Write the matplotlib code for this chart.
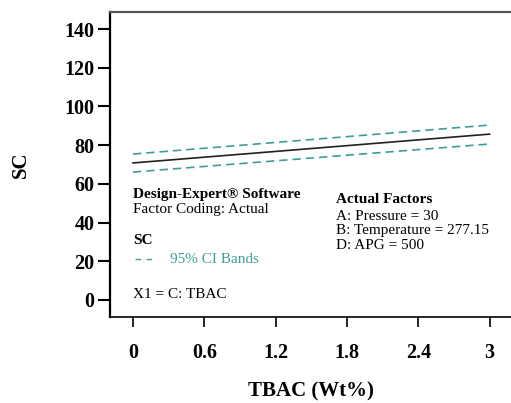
import matplotlib.pyplot as plt

# TBAC (Wt%) values and predicted SC with 95% CI bands
tbac = [0, 3]
sc_mean = [70.8, 85.7]
sc_upper = [75.4, 90.4]
sc_lower = [66.1, 80.6]

x_ticks = [0, 0.6, 1.2, 1.8, 2.4, 3]
x_tick_labels = ["0", "0.6", "1.2", "1.8", "2.4", "3"]
y_ticks = [0, 20, 40, 60, 80, 100, 120, 140]

teal = "#3a9e9b"

plt.rcParams['font.family'] = ['Liberation Serif', 'DejaVu Serif']

fig = plt.figure(figsize=(5.11, 4.03), dpi=100)
ax = fig.add_axes([0.2153, 0.2134, 0.7847, 0.7568])

ax.plot(tbac, sc_mean, color="#222222", linewidth=1.2)
ax.plot(tbac, sc_upper, color=teal, linewidth=1.2, linestyle=(0, (5, 3)))
ax.plot(tbac, sc_lower, color=teal, linewidth=1.2, linestyle=(0, (5, 3)))

ax.set_xlim(-0.193, 3.18)
ax.set_ylim(-8.8, 148.8)

ax.set_xticks(x_ticks)
ax.set_xticklabels(x_tick_labels, fontsize=14.5, fontweight="bold")
ax.set_yticks(y_ticks)
ax.set_yticklabels([str(v) for v in y_ticks], fontsize=14.5, fontweight="bold")
ax.tick_params(axis="y", direction="out", length=9, width=1.5, pad=2)
ax.tick_params(axis="x", direction="out", length=7, width=1.2, pad=12)

ax.spines["right"].set_visible(False)
ax.spines["left"].set_linewidth(1.6)
ax.spines["bottom"].set_linewidth(1.2)
ax.spines["top"].set_linewidth(1.6)
ax.spines["top"].set_color("#555555")

ax.set_xlabel("TBAC (Wt%)", fontsize=15, fontweight="bold", labelpad=13)
ax.set_ylabel("SC", fontsize=15, fontweight="bold", labelpad=24)

# annotation block like Design-Expert output
fs = 11
ax.text(0, 52.7, "Design-Expert® Software", fontsize=fs, fontweight="bold", va="baseline")
ax.text(0, 44.9, "Factor Coding: Actual", fontsize=fs, va="baseline")
ax.text(0, 28.9, "SC", fontsize=fs, fontweight="bold", va="baseline")
ax.plot([0.02, 0.16], [21.2, 21.2], color=teal, linewidth=1.0, linestyle=(0, (4, 4)))
ax.text(0.31, 19.1, "95% CI Bands", fontsize=fs, color=teal, va="baseline")
ax.text(0, 1.0, "X1 = C: TBAC", fontsize=fs, va="baseline")

ax.text(1.706, 50.1, "Actual Factors", fontsize=fs, fontweight="bold", va="baseline")
ax.text(1.706, 41.3, "A: Pressure = 30", fontsize=fs, va="baseline")
ax.text(1.706, 34.1, "B: Temperature = 277.15", fontsize=fs, va="baseline")
ax.text(1.706, 26.3, "D: APG = 500", fontsize=fs, va="baseline")

plt.savefig("out.png", dpi=100)
